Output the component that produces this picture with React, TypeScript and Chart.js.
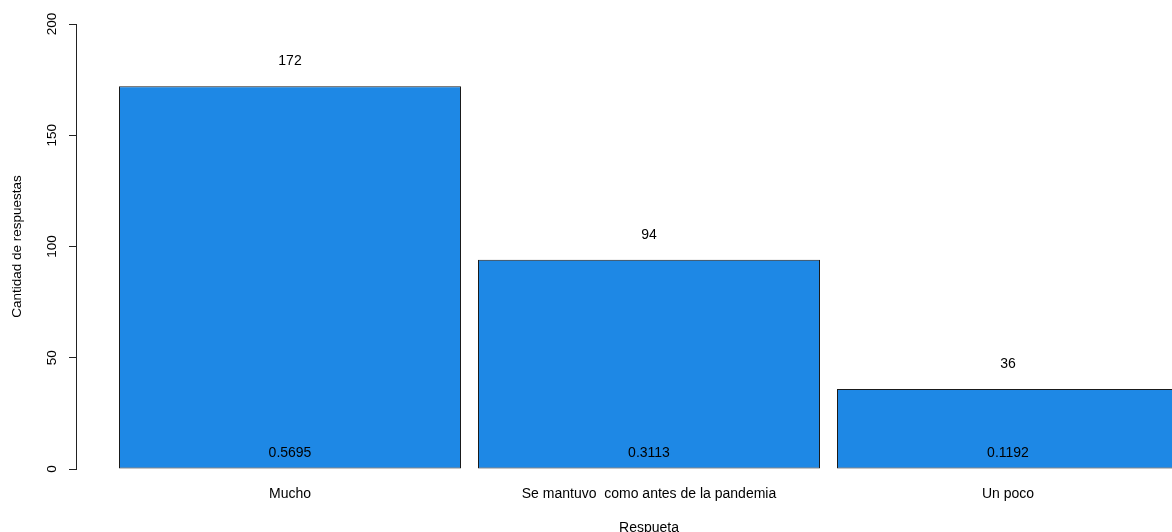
import React, { useEffect, useRef } from "react";
import { Chart, registerables } from "chart.js";

Chart.register(...registerables);

const categories = ["Mucho", "Se mantuvo  como antes de la pandemia", "Un poco"];
const counts = [172, 94, 36];
const proportions = ["0.5695", "0.3113", "0.1192"];
const yTicks = [0, 50, 100, 150, 200];

const FONT = "'Liberation Sans', Arial, sans-serif";
const FS = 14;
const FS_Y = 13.5;

const barLabelsPlugin = {
  id: "barLabels",
  afterDatasetsDraw(chart: any) {
    const { ctx } = chart;
    const meta = chart.getDatasetMeta(0);
    const yScale = chart.scales.y;
    ctx.save();
    ctx.font = `${FS}px ${FONT}`;
    ctx.fillStyle = "#000";
    ctx.textAlign = "center";
    ctx.textBaseline = "middle";
    meta.data.forEach((bar: any, i: number) => {
      const top = yScale.getPixelForValue(counts[i]);
      const base = yScale.getPixelForValue(0);
      ctx.fillText(String(counts[i]), bar.x, top - 25);
      ctx.fillText(proportions[i], bar.x, base - 16);
    });
    ctx.restore();
  },
};

export default function App() {
  const ref = useRef<HTMLCanvasElement | null>(null);

  useEffect(() => {
    if (!ref.current) return;
    const chart = new Chart(ref.current, {
      type: "bar",
      data: {
        datasets: [
          {
            data: counts.map((v, i) => ({ x: i, y: v })),
            backgroundColor: "#1E88E5",
            borderColor: "#1a1a1a",
            borderWidth: 1,
            borderSkipped: false,
            barPercentage: 342 / 359,
            categoryPercentage: 1,
          },
        ],
      },
      options: {
        animation: false,
        responsive: false,
        maintainAspectRatio: false,
        layout: { padding: { top: 24, left: 0, right: 0, bottom: 0 } },
        plugins: {
          legend: { display: false },
          tooltip: { enabled: false },
        },
        scales: {
          x: {
            type: "linear",
            offset: false,
            min: -0.5961,
            max: 2.5961,
            grid: { display: false, offset: false },
            border: { display: false },
            afterBuildTicks: (scale: any) => {
              scale.ticks = categories.map((_, i) => ({ value: i }));
            },
            afterFit: (scale: any) => {
              scale.height = 63;
            },
            ticks: {
              padding: 9,
              color: "#000",
              font: { family: FONT, size: FS },
              maxRotation: 0,
              autoSkip: false,
              callback: (v: any) => categories[v as number] ?? "",
            },
            title: {
              display: true,
              text: "Respueta",
              color: "#000",
              font: { family: FONT, size: FS, lineHeight: 0.57 },
              padding: { top: 0, bottom: 0 },
            },
          },
          y: {
            min: 0,
            max: 200,
            afterBuildTicks: (scale: any) => {
              scale.ticks = yTicks.map((v) => ({ value: v }));
            },
            afterFit: (scale: any) => {
              scale.width = 76;
            },
            grid: {
              drawOnChartArea: false,
              drawTicks: true,
              tickLength: 7,
              color: "#222",
              lineWidth: 1,
            },
            border: { display: true, color: "#222", width: 1 },
            ticks: {
              color: "#000",
              font: { family: FONT, size: FS_Y },
              minRotation: 90,
              maxRotation: 90,
              crossAlign: "center",
              padding: 5,
            },
            title: {
              display: true,
              text: "Cantidad de respuestas",
              color: "#000",
              font: { family: FONT, size: FS_Y, lineHeight: 1 },
              padding: { top: 11, bottom: 0 },
            },
          },
        },
      },
      plugins: [barLabelsPlugin],
    } as any);
    return () => chart.destroy();
  }, []);

  return (
    <div
      style={{
        position: "fixed",
        left: 0,
        top: 0,
        width: 1172,
        height: 532,
        overflow: "hidden",
        background: "#fff",
      }}
    >
      <canvas ref={ref} width={1222} height={532} style={{ display: "block" }} />
    </div>
  );
}
